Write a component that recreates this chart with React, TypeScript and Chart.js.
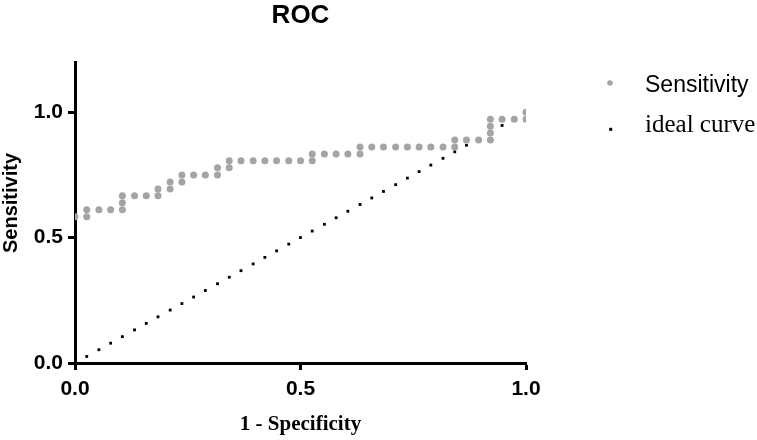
import React, { useEffect, useRef } from "react";
import { Chart, registerables } from "chart.js";

Chart.register(...registerables);

// ---- data ----
const chartTitle = "ROC";
const xAxisTitle = "1 - Specificity";
const yAxisTitle = "Sensitivity";
const seriesLabels = ["Sensitivity", "ideal curve"];
const xTicks = [0, 0.5, 1.0];
const yTicks = [0, 0.5, 1.0];

const sensitivityX = [
  0, 0.026, 0.026, 0.053, 0.079, 0.105, 0.105, 0.105, 0.132, 0.158, 0.184, 0.184,
  0.211, 0.211, 0.237, 0.237, 0.263, 0.289, 0.316, 0.316, 0.342, 0.342, 0.368,
  0.395, 0.421, 0.447, 0.474, 0.5, 0.526, 0.526, 0.553, 0.579, 0.605, 0.632, 0.632,
  0.658, 0.684, 0.711, 0.737, 0.763, 0.789, 0.816, 0.842, 0.842, 0.868, 0.895,
  0.921, 0.921, 0.921, 0.921, 0.947, 0.974, 1, 1,
];
const sensitivityY = [
  0.583, 0.583, 0.611, 0.611, 0.611, 0.611, 0.639, 0.667, 0.667, 0.667, 0.667, 0.694,
  0.694, 0.722, 0.722, 0.75, 0.75, 0.75, 0.75, 0.778, 0.778, 0.806, 0.806,
  0.806, 0.806, 0.806, 0.806, 0.806, 0.806, 0.833, 0.833, 0.833, 0.833, 0.833, 0.861,
  0.861, 0.861, 0.861, 0.861, 0.861, 0.861, 0.861, 0.861, 0.889, 0.889, 0.889,
  0.889, 0.917, 0.944, 0.972, 0.972, 0.972, 0.972, 1,
];

const idealX = [
  0, 0.026, 0.053, 0.079, 0.105, 0.132, 0.158, 0.184, 0.211, 0.237, 0.263, 0.289,
  0.316, 0.342, 0.368, 0.395, 0.421, 0.447, 0.474, 0.5, 0.526, 0.553, 0.579, 0.605,
  0.632, 0.658, 0.684, 0.711, 0.737, 0.763, 0.789, 0.816, 0.842, 0.868, 0.895,
  0.921, 0.947, 0.974, 1,
];
const idealY = [
  0, 0.026, 0.053, 0.079, 0.105, 0.132, 0.158, 0.184, 0.211, 0.237, 0.263, 0.289,
  0.316, 0.342, 0.368, 0.395, 0.421, 0.447, 0.474, 0.5, 0.526, 0.553, 0.579, 0.605,
  0.632, 0.658, 0.684, 0.711, 0.737, 0.763, 0.789, 0.816, 0.842, 0.868, 0.895,
  0.921, 0.947, 0.974, 1,
];

const GREY = "#a4a4a8";
const BLACK = "#000000";

const titlePlugin = {
  id: "customTitle",
  afterDraw(chart: any) {
    const { ctx, chartArea } = chart;
    ctx.save();
    ctx.font = "bold 26px 'Liberation Sans', Arial, sans-serif";
    ctx.fillStyle = BLACK;
    ctx.textAlign = "center";
    ctx.textBaseline = "alphabetic";
    ctx.fillText(chartTitle, (chartArea.left + chartArea.right) / 2, 23);
    // y-axis title
    ctx.translate(11, 203);
    ctx.rotate(-Math.PI / 2);
    ctx.font = "bold 20px 'Liberation Sans', Arial, sans-serif";
    ctx.textBaseline = "middle";
    ctx.fillText(yAxisTitle, 0, 0);
    ctx.restore();
  },
};

const legendPlugin = {
  id: "customLegend",
  afterDraw(chart: any) {
    const { ctx } = chart;
    const ds = chart.data.datasets;
    ctx.save();
    // Sensitivity
    ctx.fillStyle = GREY;
    ctx.beginPath();
    ctx.arc(610, 83, 2.8, 0, Math.PI * 2);
    ctx.fill();
    ctx.fillStyle = BLACK;
    ctx.textAlign = "left";
    ctx.textBaseline = "alphabetic";
    ctx.font = "23px 'Liberation Sans', Arial, sans-serif";
    ctx.fillText(ds[0].label, 645, 91.5);
    // ideal curve
    ctx.fillRect(609.2, 127.8, 3, 3);
    ctx.font = "25px 'Liberation Serif', 'Times New Roman', serif";
    ctx.fillText(ds[1].label, 645, 131.5);
    ctx.restore();
  },
};

export default function App() {
  const canvasRef = useRef<HTMLCanvasElement | null>(null);

  useEffect(() => {
    document.body.style.margin = "0";
    const canvas = canvasRef.current;
    if (!canvas) return;

    const chart = new Chart(canvas, {
      type: "scatter",
      data: {
        datasets: [
          {
            label: seriesLabels[0],
            data: sensitivityX.map((x, i) => ({ x, y: sensitivityY[i] })),
            backgroundColor: GREY,
            borderWidth: 0,
            pointRadius: 3.5,
            pointStyle: "circle",
          },
          {
            label: seriesLabels[1],
            data: idealX.map((x, i) => ({ x, y: idealY[i] })),
            backgroundColor: BLACK,
            borderWidth: 0,
            pointRadius: 2,
            pointStyle: "rect",
          },
        ],
      },
      options: {
        responsive: false,
        animation: false,
        layout: { padding: { top: 62, right: 231, left: 0, bottom: 0 } },
        plugins: {
          legend: { display: false },
          title: { display: false },
          tooltip: { enabled: false },
        },
        scales: {
          x: {
            type: "linear",
            min: 0,
            max: 1,
            afterBuildTicks: (scale: any) => {
              scale.ticks = xTicks.map((v) => ({ value: v }));
            },
            afterFit: (scale: any) => {
              scale.height = 77;
            },
            ticks: {
              color: BLACK,
              padding: 7,
              font: { family: "'Liberation Sans', Arial, sans-serif", size: 21, weight: "bold" },
              callback: (v: any) => Number(v).toFixed(1),
            },
            grid: {
              display: true,
              drawOnChartArea: false,
              drawTicks: true,
              tickLength: 7,
              tickWidth: 3,
              tickColor: BLACK,
            },
            border: { display: true, color: BLACK, width: 3 },
            title: {
              display: true,
              text: xAxisTitle,
              color: BLACK,
              padding: { top: 0, bottom: 3 },
              font: { family: "'Liberation Serif', 'Times New Roman', serif", size: 21, weight: "bold" },
            },
          },
          y: {
            type: "linear",
            min: 0,
            max: 1.2,
            afterBuildTicks: (scale: any) => {
              scale.ticks = yTicks.map((v) => ({ value: v }));
            },
            afterFit: (scale: any) => {
              scale.width = 75;
            },
            ticks: {
              color: BLACK,
              padding: 5,
              font: { family: "'Liberation Sans', Arial, sans-serif", size: 21, weight: "bold" },
              callback: (v: any) => Number(v).toFixed(1),
            },
            grid: {
              display: true,
              drawOnChartArea: false,
              drawTicks: true,
              tickLength: 7,
              tickWidth: 3,
              tickColor: BLACK,
            },
            border: { display: true, color: BLACK, width: 3 },
            title: { display: false },
          },
        },
      },
      plugins: [titlePlugin, legendPlugin],
    });

    return () => chart.destroy();
  }, []);

  return (
    <div style={{ width: 757, height: 440, background: "#ffffff" }}>
      <canvas ref={canvasRef} width={757} height={440} style={{ width: 757, height: 440, display: "block" }} />
    </div>
  );
}
